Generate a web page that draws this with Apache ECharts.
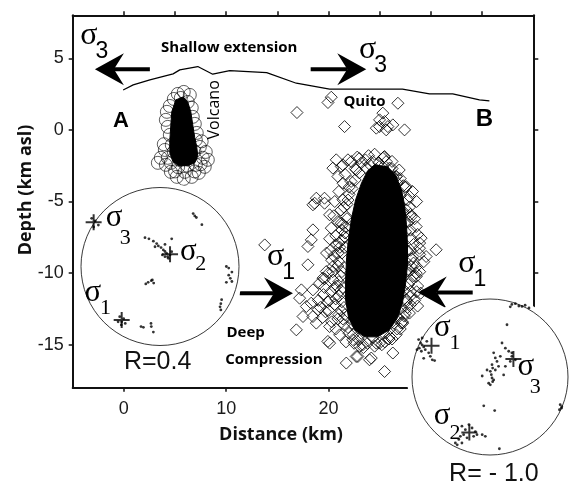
<!DOCTYPE html>
<html><head><meta charset="utf-8">
<script src="https://cdn.jsdelivr.net/npm/echarts@6/dist/echarts.min.js"></script>
<style>html,body{margin:0;padding:0;background:#fff}#c{width:571px;height:482px}</style>
</head><body><div id="c"></div>
<script>
// ---------------- DATA ----------------
const xTickVals = [0, 10, 20, 30];
const xTopTickVals = [0, 5, 10, 15, 20, 25, 30, 35];
const yTickVals = [-15, -10, -5, 0, 5];

// topography profile (km, km asl)
const topoX = [-0.07, 0.91, 2.54, 4.81, 5.46, 7.22, 8.68, 10.34, 13.95, 16.85, 20.1, 25.0, 27.22, 29.86, 32.13, 34.74, 35.71];
const topoY = [2.79, 3.14, 3.49, 3.91, 4.19, 4.42, 3.89, 4.14, 4.00, 3.26, 2.84, 2.84, 2.84, 2.51, 2.51, 2.09, 2.02];

// Volcano hypocentres (open circles) and dense core outline
const volcanoEvents = [[5.27,2.51],[5.85,2.65],[6.44,2.44],[4.88,2.16],[6.24,1.95],[5.56,2.23],[4.49,1.67],[6.63,1.54],[4.20,1.26],[6.73,0.91],[4.10,0.70],[6.93,0.42],[4.29,0.21],[7.12,-0.21],[4.49,-0.35],[7.03,-0.70],[4.0,-1.40],[3.61,-1.95],[4.10,-2.44],[4.59,-2.93],[5.17,-3.28],[5.85,-3.42],[6.63,-3.28],[7.32,-3.0],[7.90,-2.58],[8.20,-2.09],[8.0,-1.54],[7.42,-1.19],[4.68,-1.05],[3.32,-2.30],[5.95,-2.93],[7.03,-2.44],[4.29,-1.95],[7.71,-1.95],[5.46,-2.09],[6.44,-1.74],[4.88,-1.54],[5.3,-2.6],[6.2,-2.5],[6.9,-1.5],[5.6,-1.6],[4.6,-2.3],[7.5,-2.4],[5.0,-2.9],[6.9,-2.9],[3.9,-1.0],[7.6,-0.8]];
const volcanoCoreX = [5.07,5.76,6.24,6.54,6.73,6.93,7.12,7.22,6.93,6.24,5.37,4.78,4.49,4.49,4.59,4.68];
const volcanoCoreY = [2.09,2.30,1.95,1.26,0.35,-0.56,-1.20,-1.80,-2.30,-2.50,-2.50,-2.20,-1.60,-0.70,0.35,1.26];

// Quito hypocentres (open diamonds) and dense core outline
const quitoEvents = [[20.26,2.28],[19.94,1.91],[16.91,1.21],[26.77,1.86],[21.56,0.23],[25.30,1.17],[24.98,0.70],[25.47,0.58],[25.79,0.23],[24.98,0.23],[26.28,0.35],[27.42,0.0],[24.66,0.12],[25.63,0.0],
[20.75,-2.09],[21.89,-2.09],[20.42,-2.67],[21.24,-2.56],[25.30,-1.98],[25.63,-2.21],[20.91,-3.26],[21.40,-3.72],[22.70,-2.79],[23.68,-2.67],[24.66,-2.79],[26.60,-3.26],[27.58,-3.96],[18.80,-4.77],[19.60,-4.77],
[18.47,-5.23],[19.61,-5.12],[20.10,-5.93],[18.47,-6.98],[18.31,-7.68],[20.26,-6.86],[17.98,-8.14],[17.98,-9.42],[20.75,-8.03],[20.91,-8.61],[20.42,-9.54],[19.78,-9.89],[19.45,-10.35],[19.12,-10.70],[20.42,-10.47],[18.47,-11.17],[17.34,-11.17],
[28.56,-6.75],[29.04,-7.56],[28.88,-8.26],[28.23,-8.84],[28.07,-9.54],[28.56,-10.0],[21.40,-4.88],[21.73,-6.05],[21.24,-6.51],[21.56,-7.45],[27.90,-4.65],[27.58,-5.58],[28.07,-6.05],[27.42,-6.51],
[21.40,-2.44],[22.22,-2.21],[25.47,-1.86],[25.95,-2.67],[26.61,-3.26],[18.64,-5.12],[13.76,-8.03],[30.51,-8.37],[29.53,-8.84],[28.56,-10.24],
[16.85,-13.96],[18.47,-13.03],[19.93,-14.77],[21.73,-16.28],[22.70,-15.82],[24.17,-15.93],[25.47,-16.87],[17.17,-11.75],[17.83,-12.33],[18.96,-12.56],[20.10,-13.73],[21.08,-14.31],[23.03,-15.12],[24.66,-14.89],[25.95,-14.42],[27.10,-13.49],[27.90,-12.79],[27.58,-11.86],
[20.10,-14.89],[22.86,-15.82],[24.0,-16.05],[26.28,-15.58],[27.25,-13.49],[24.98,-14.89],[23.35,-15.0],[22.37,-14.65],[17.50,-13.03],[18.80,-13.49],
[21.0,-4.3],[20.6,-5.0],[21.2,-5.6],[20.9,-6.4],[21.3,-7.0],[20.7,-7.4],[21.1,-8.2],[20.5,-8.8],[21.0,-9.2],[20.4,-9.9],[21.2,-10.2],[20.8,-10.9],[20.2,-11.3],[21.0,-11.6],[20.6,-12.2],[19.9,-12.0],[21.2,-12.6],[20.9,-13.2],[21.5,-13.6],[22.0,-14.2],[19.5,-11.5],[19.0,-11.9],[18.3,-12.1],[19.7,-12.7],[20.3,-13.4],[21.7,-14.8],[22.5,-14.9],[23.4,-15.2],[22.2,-3.6],[22.0,-4.5],[21.6,-3.1],[22.6,-2.7],[23.2,-2.3],[23.9,-1.8],[24.5,-1.7],
[28.2,-4.3],[28.6,-5.0],[27.9,-5.4],[28.4,-6.2],[28.0,-7.0],[28.7,-7.3],[28.3,-8.0],[28.9,-8.7],[28.1,-9.0],[28.5,-9.6],[28.1,-10.5],[28.7,-10.9],[28.0,-11.3],[28.4,-11.9],[27.7,-12.4],[27.4,-13.0],[27.0,-13.9],[26.6,-14.3],[25.9,-14.6],[25.2,-15.0],[27.0,-3.4],[26.9,-2.8],[26.2,-2.2],[25.4,-1.9],[27.5,-4.0],
[22.0,-4.0],[21.8,-5.2],[21.7,-6.8],[21.6,-8.2],[21.5,-9.6],[21.4,-11.0],[21.5,-12.4],[22.3,-13.5],[23.2,-14.2],[24.3,-14.5],[25.4,-14.2],[26.4,-13.5],[27.0,-12.5],[27.4,-11.2],[27.6,-9.9],[27.7,-8.5],[27.5,-7.1],[27.3,-5.7],[27.0,-4.6],[26.3,-3.3],[25.3,-2.6],[24.0,-2.4],[23.0,-3.0],
[22.6,-3.5],[22.3,-4.1],[21.9,-4.9],[21.5,-5.4],[21.8,-6.2],[21.4,-6.6],[21.3,-7.7],[21.6,-7.2],[21.0,-7.9],[21.3,-8.6],[20.9,-9.5],[21.3,-9.9],[21.0,-10.6],[21.2,-11.2],[20.7,-11.8],[21.3,-12.0],[21.0,-12.9],[21.6,-12.9],[21.9,-13.8],[22.4,-14.3],[22.9,-14.6],[23.8,-14.9],[24.5,-15.1],[20.0,-10.0],[20.2,-8.4],[19.6,-11.0],[20.0,-12.6],[19.2,-12.4],
[26.2,-2.7],[26.7,-3.7],[27.3,-3.9],[27.7,-4.9],[28.0,-5.9],[27.8,-6.4],[28.1,-7.6],[28.0,-8.4],[28.3,-9.3],[27.9,-9.8],[28.3,-10.2],[27.8,-10.8],[28.0,-11.6],[27.6,-12.0],[27.5,-12.8],[27.2,-13.4],[26.7,-13.9],[26.2,-14.6],[25.5,-14.8],[28.9,-9.9],[29.3,-9.2],[29.0,-11.4],[28.7,-12.3],
[23.0,-2.0],[23.6,-2.1],[24.3,-2.2],[24.9,-2.3],[22.8,-1.9],
[20.5,-6.0],[20.1,-7.6],[19.8,-8.6],[20.3,-9.1],[19.6,-10.4],[20.6,-11.0],[20.1,-11.9],[19.4,-13.1],[20.7,-13.9],[21.4,-13.2],[22.6,-13.2],[26.8,-13.1],[28.0,-12.2],[28.6,-11.3],[28.9,-7.9]];
const quitoCoreX = [24.49,25.76,26.54,27.12,27.42,27.61,27.71,27.71,27.51,27.22,26.73,25.95,24.78,23.51,22.54,21.95,21.66,21.66,21.76,21.95,22.25,22.64,23.22,23.81];
const quitoCoreY = [-2.44,-2.58,-3.14,-4.19,-5.23,-6.63,-8.03,-9.42,-10.82,-12.07,-13.12,-13.96,-14.45,-14.45,-13.96,-13.12,-11.86,-10.47,-8.93,-7.54,-6.14,-4.88,-3.70,-2.86];

// stress arrows (tail -> tip, km / km asl)
const arrowTail = [[2.54,4.24],[18.25,4.24],[11.32,-11.4],[34.08,-11.35]];
const arrowTip  = [[-2.83,4.24],[23.68,4.24],[16.52,-11.4],[28.71,-11.35]];
const mainSigmaPos = [[-3.41,6.28],[23.81,5.30],[14.83,-9.14],[33.52,-9.63]];
const mainSigmaSub = ['3','3','1','1'];

// annotation texts
const annoText = ['Shallow extension','Quito','Volcano','A','B','Deep','Compression'];
const annoPos = [[10.29,5.72],[23.51,1.99],[8.88,1.40],[-0.29,0.63],[35.22,0.70],[10.02,-14.13],[9.90,-16.05]];

// stereonets (unit circle coordinates)
const leftDots = [[0.42,0.67],[0.44,0.64],[0.46,0.62],[0.53,0.53],[0.84,0.00],[0.87,-0.02],[0.91,-0.07],[0.87,-0.11],[0.89,-0.15],[0.91,-0.19],[0.84,-0.20],[0.78,-0.42],[0.77,-0.47],[0.76,-0.51],[0.77,-0.55],[-0.19,0.365],[-0.14,0.35],[-0.084,0.32],[-0.042,0.29],[-0.021,0.26],[0.013,0.24],[0.042,0.21],[0.063,0.19],[-0.063,0.25],[0.03,0.146],[0.097,0.124],[0.148,0.35],[0.063,0.28],[-0.18,-0.22],[-0.15,-0.20],[-0.11,-0.18],[-0.097,-0.17],[-0.08,-0.21],[-0.24,-0.76],[-0.21,-0.77],[-0.114,-0.72],[-0.11,-0.76],[-0.084,-0.83],[-0.51,-0.635],[-0.485,-0.70],[-0.46,-0.66],[-0.53,-0.70],[-0.44,-0.72],[-0.49,-0.74],[-0.82,0.576],[-0.78,0.525],[-0.84,0.50],[-0.865,0.61],[0.084,0.167],[0.127,0.146],[0.105,0.103],[0.148,0.188],[0.063,0.124]];
const leftCross = [[-0.84,0.56],[0.127,0.154],[-0.485,-0.677]];
const leftSigmaPos = [[-0.58,0.57],[0.36,0.14],[-0.85,-0.39]];
const leftSubPos = [[-0.44,0.36],[0.515,0.028],[-0.69,-0.53]];
const leftSub = ['3','2','1'];
const leftR = ['R=0.4'];
const leftRPos = [[-0.03,-1.21]];

const rightDots = [[-0.915,0.48],[-0.89,0.436],[-0.87,0.41],[-0.906,0.37],[-0.85,0.385],[-0.83,0.35],[-0.88,0.33],[-0.936,0.35],[-0.81,0.457],[-0.786,0.31],[-0.74,0.22],[-0.85,0.24],[-0.765,0.265],[-0.71,0.21],[-0.87,0.5],
[0.28,0.93],[0.325,0.94],[0.37,0.91],[0.41,0.905],[0.50,0.885],[0.26,0.90],[0.45,0.92],
[0.218,0.67],[0.154,0.436],[0.197,0.37],[0.24,0.33],[0.28,0.31],[0.047,0.31],[0.068,0.244],[0.132,0.265],[0.09,0.20],[0.026,0.158],[0.034,0.115],[0.004,0.073],[0.017,0.03],[0.026,-0.013],[0.034,-0.06],[0.004,-0.10],[0.047,-0.038],[-0.017,-0.08],[0.068,0.09],[0.11,0.137],[0.197,0.137],[0.175,0.026],[-0.10,0.013],[-0.038,0.09],[0.28,0.265],[0.325,0.22],[0.26,0.20],
[0.90,-0.355],[0.915,-0.40],[0.89,-0.42],[0.92,-0.38],[-0.08,-0.37],[0.06,-0.43],[0.12,-0.92],
[-0.36,-0.63],[-0.316,-0.675],[-0.338,-0.74],[-0.38,-0.76],[-0.295,-0.78],[-0.40,-0.80],[-0.444,-0.846],[-0.23,-0.654],[-0.188,-0.70],[-0.167,-0.74],[-0.10,-0.74],[-0.06,-0.76],[-0.21,-0.76],[-0.36,-0.846],[-0.27,-0.61],[-0.42,-0.87]];
const rightCross = [[-0.75,0.40],[0.30,0.23],[-0.265,-0.71]];
const rightSigmaPos = [[-0.61,0.58],[0.46,0.08],[-0.615,-0.55]];
const rightSubPos = [[-0.45,0.43],[0.58,-0.13],[-0.45,-0.72]];
const rightSub = ['1','3','2'];
const rightR = ['R= - 1.0'];
const rightRPos = [[0.05,-1.24]];

// ---------------- RENDERING ----------------
const SANS = 'Liberation Sans';
const SERIF = 'Liberation Serif';
const BOLD_UI = 'Open Sans';
const annoStyle = [
  {fontSize:15, fontWeight:'bold', fontFamily:BOLD_UI, align:'center'},
  {fontSize:15, fontWeight:'bold', fontFamily:BOLD_UI, align:'center'},
  {fontSize:16, fontWeight:'normal', fontFamily:BOLD_UI, align:'center', rot:Math.PI/2},
  {fontSize:22, fontWeight:'bold', fontFamily:SANS, align:'center'},
  {fontSize:24, fontWeight:'bold', fontFamily:SANS, align:'center'},
  {fontSize:15, fontWeight:'bold', fontFamily:BOLD_UI, align:'left'},
  {fontSize:15, fontWeight:'bold', fontFamily:BOLD_UI, align:'left'}
];

function polygonSeries(xs, ys, z) {
  return {
    type:'custom', xAxisIndex:0, yAxisIndex:0, z:z, silent:true,
    data:[[xs[0], ys[0]]],
    renderItem:function(params, api){
      const pts = xs.map((x,i)=>api.coord([x, ys[i]]));
      return {type:'polygon', shape:{points:pts}, style:{fill:'#000', stroke:'#000', lineWidth:1}};
    }
  };
}

function arrowRender(params, api){
  const p0 = api.coord([api.value(0), api.value(1)]);
  const p1 = api.coord([api.value(2), api.value(3)]);
  const dx = p1[0]-p0[0], dy = p1[1]-p0[1];
  const L = Math.hypot(dx,dy), ux = dx/L, uy = dy/L, nx = -uy, ny = ux;
  const HL = 29, HW = 16, NOTCH = 19;
  const b1 = [p1[0]-ux*HL+nx*HW, p1[1]-uy*HL+ny*HW];
  const b2 = [p1[0]-ux*HL-nx*HW, p1[1]-uy*HL-ny*HW];
  const nt = [p1[0]-ux*NOTCH, p1[1]-uy*NOTCH];
  return {type:'group', children:[
    {type:'line', shape:{x1:p0[0], y1:p0[1], x2:nt[0], y2:nt[1]}, style:{stroke:'#000', lineWidth:4}},
    {type:'polygon', shape:{points:[p1,b1,nt,b2]}, style:{fill:'#000'}}
  ]};
}

function sigmaRender(sigmaFont, sigmaSize, subFont, subSize, dxSub, dySub){
  return function(params, api){
    const p = api.coord([api.value(0), api.value(1)]);
    const sub = api.value(2);
    return {type:'group', children:[
      {type:'text', x:p[0], y:p[1]-4, style:{text:'σ', fontFamily:sigmaFont, fontSize:sigmaSize, fill:'#000', align:'center', verticalAlign:'middle'}},
      {type:'text', x:p[0]+dxSub, y:p[1]+dySub, style:{text:String(sub), fontFamily:subFont, fontSize:subSize, fill:'#000', align:'center', verticalAlign:'middle'}}
    ]};
  };
}

function stereoSeries(idx, dots, cross, sigmaPos, subPos, subs, rText, rPos){
  const ax = {xAxisIndex:idx, yAxisIndex:idx};
  return [
    Object.assign({type:'custom', z:10, silent:true, clip:false, data:[[0,0]],
      renderItem:function(params, api){
        const c = api.coord([0,0]);
        const r = api.size([1,0])[0];
        return {type:'group', children:[
          {type:'circle', shape:{cx:c[0], cy:c[1], r:r+5}, style:{fill:'#fff'}},
          {type:'circle', shape:{cx:c[0], cy:c[1], r:r}, style:{fill:'#fff', stroke:'#222', lineWidth:0.9}}
        ]};
      }}, ax),
    Object.assign({type:'scatter', z:11, silent:true, clip:false, symbol:'circle', symbolSize:2.8,
      itemStyle:{color:'#000'}, data:dots}, ax),
    Object.assign({type:'scatter', z:12, silent:true, clip:false,
      symbol:'path://M7,0H9V7H16V9H9V16H7V9H0V7H7Z', symbolSize:16,
      itemStyle:{color:'#000'}, data:cross}, ax),
    Object.assign({type:'custom', z:13, silent:true, clip:false,
      data:sigmaPos.map((p,i)=>[p[0],p[1],subs[i],subPos[i][0],subPos[i][1]]),
      renderItem:function(params, api){
        const p = api.coord([api.value(0), api.value(1)]);
        const q = api.coord([api.value(3), api.value(4)]);
        return {type:'group', children:[
          {type:'text', x:p[0], y:p[1]-4, style:{text:'σ', fontFamily:SERIF, fontSize:31, fill:'#000', align:'center', verticalAlign:'middle'}},
          {type:'text', x:q[0], y:q[1], style:{text:String(api.value(2)), fontFamily:SERIF, fontSize:22, fill:'#000', align:'center', verticalAlign:'middle'}}
        ]};
      }}, ax),
    Object.assign({type:'custom', z:13, silent:true, clip:false,
      data:rPos.map((p,i)=>[p[0],p[1],i]),
      renderItem:function(params, api){
        const p = api.coord([api.value(0), api.value(1)]);
        return {type:'text', x:p[0], y:p[1], style:{text:rText[api.value(2)], fontFamily:SANS, fontSize:25, fill:'#111', align:'center', verticalAlign:'middle'}};
      }}, ax)
  ];
}

const axisLineStyle = {color:'#111', width:2};
const option = {
  animation:false,
  backgroundColor:'#fff',
  grid:[
    {left:72.7, top:15.3, width:460.6, height:372.4},
    {left:81, top:187.5, width:158, height:158},
    {left:412, top:299, width:156, height:156}
  ],
  xAxis:[
    {gridIndex:0, type:'value', min:-5, max:40, position:'bottom',
      axisLine:{show:true, onZero:false, lineStyle:axisLineStyle},
      axisTick:{show:true, customValues:xTickVals, length:4, lineStyle:{color:'#111', width:1.5}},
      axisLabel:{show:true, customValues:xTickVals, margin:12, fontSize:18, color:'#1a1a1a', fontFamily:SANS},
      splitLine:{show:false}},
    {gridIndex:0, type:'value', min:-5, max:40, position:'top',
      axisLine:{show:true, onZero:false, lineStyle:axisLineStyle},
      axisTick:{show:true, customValues:xTopTickVals, length:4, lineStyle:{color:'#111', width:1.5}},
      axisLabel:{show:false}, splitLine:{show:false}},
    {gridIndex:1, type:'value', min:-1, max:1, show:false},
    {gridIndex:2, type:'value', min:-1, max:1, show:false}
  ],
  yAxis:[
    {gridIndex:0, type:'value', min:-18, max:8, position:'left',
      axisLine:{show:true, onZero:false, lineStyle:axisLineStyle},
      axisTick:{show:true, customValues:yTickVals, length:4, lineStyle:{color:'#111', width:1.5}},
      axisLabel:{show:true, customValues:yTickVals, margin:9, fontSize:18, color:'#1a1a1a', fontFamily:SANS},
      splitLine:{show:false}},
    {gridIndex:0, type:'value', min:-18, max:8, position:'right',
      axisLine:{show:true, onZero:false, lineStyle:axisLineStyle},
      axisTick:{show:true, customValues:yTickVals, length:5, lineStyle:{color:'#111', width:1.5}},
      axisLabel:{show:false}, splitLine:{show:false}},
    {gridIndex:1, type:'value', min:-1, max:1, show:false},
    {gridIndex:2, type:'value', min:-1, max:1, show:false}
  ],
  graphic:[
    {type:'text', x:26, y:190, rotation:Math.PI/2, z:20,
      style:{text:'Depth (km asl)', fontFamily:BOLD_UI, fontWeight:'bold', fontSize:18, fill:'#111', align:'center', verticalAlign:'middle'}},
    {type:'text', x:281, y:435, z:20,
      style:{text:'Distance (km)', fontFamily:BOLD_UI, fontWeight:'bold', fontSize:18, fill:'#111', align:'center', verticalAlign:'middle'}}
  ],
  series:[
    polygonSeries(quitoCoreX, quitoCoreY, 2),
    {type:'scatter', xAxisIndex:0, yAxisIndex:0, z:3, silent:true, symbol:'diamond', symbolSize:12,
      itemStyle:{color:'rgba(0,0,0,0)', borderColor:'#000', borderWidth:1}, data:quitoEvents},
    polygonSeries(volcanoCoreX, volcanoCoreY, 2),
    {type:'scatter', xAxisIndex:0, yAxisIndex:0, z:3, silent:true, symbol:'circle', symbolSize:13,
      itemStyle:{color:'rgba(0,0,0,0)', borderColor:'#000', borderWidth:0.8}, data:volcanoEvents},
    {type:'line', xAxisIndex:0, yAxisIndex:0, z:4, silent:true, showSymbol:false, symbol:'none',
      lineStyle:{color:'#000', width:1.2}, data:topoX.map((x,i)=>[x, topoY[i]])},
    {type:'custom', xAxisIndex:0, yAxisIndex:0, z:5, silent:true,
      data:arrowTail.map((t,i)=>[t[0],t[1],arrowTip[i][0],arrowTip[i][1]]), renderItem:arrowRender},
    {type:'custom', xAxisIndex:0, yAxisIndex:0, z:5, silent:true,
      data:mainSigmaPos.map((p,i)=>[p[0],p[1],mainSigmaSub[i]]),
      renderItem:sigmaRender(SERIF, 32, SANS, 23, 13, 12)},
    {type:'custom', xAxisIndex:0, yAxisIndex:0, z:6, silent:true,
      data:annoPos.map((p,i)=>[p[0],p[1],i]),
      renderItem:function(params, api){
        const i = api.value(2);
        const s = annoStyle[i];
        const p = api.coord([api.value(0), api.value(1)]);
        return {type:'text', x:p[0], y:p[1], rotation:s.rot||0,
          style:{text:annoText[i], fontFamily:s.fontFamily, fontSize:s.fontSize, fontWeight:s.fontWeight, fill:'#000', align:s.align, verticalAlign:'middle'}};
      }},
    ...stereoSeries(2, leftDots, leftCross, leftSigmaPos, leftSubPos, leftSub, leftR, leftRPos),
    ...stereoSeries(3, rightDots, rightCross, rightSigmaPos, rightSubPos, rightSub, rightR, rightRPos)
  ]
};
const chart = echarts.init(document.getElementById('c'));
chart.setOption(option);
</script>
</body></html>
